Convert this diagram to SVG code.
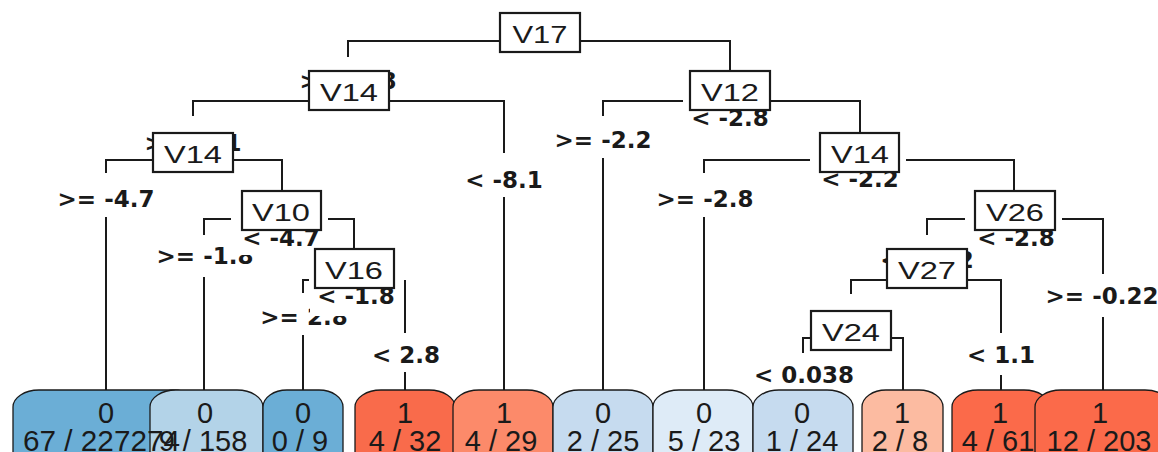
<svg xmlns="http://www.w3.org/2000/svg" width="1158" height="452" viewBox="0 0 1158 452">
<style>
.ln{stroke:#1a1a1a;stroke-width:2;fill:none}
.bx{fill:#fff;stroke:#1a1a1a;stroke-width:2.2}
.vt{font-family:"Liberation Sans",Arial,sans-serif;font-size:23px;fill:#1a1a1a;text-anchor:middle}
.lb{font-family:"DejaVu Sans",sans-serif;font-weight:bold;font-size:23px;fill:#1a1a1a;text-anchor:middle}
.lf{stroke:#1a1a1a;stroke-width:1.3}
.lt{font-family:"Liberation Sans",Arial,sans-serif;font-size:29px;fill:#1a1a1a;text-anchor:middle}
.bg{fill:#fff}
</style>
<rect width="1158" height="452" fill="#fff"/>
<g id="connectors">
<path class="ln" d="M348,57V41H500 M580,41H730V71 M193,116V101H309 M389,101H504V153 M504,197V390 M683,101H603V116 M603,158V390 M770,101H860V133 M106,173V160H153 M106,217V390 M233,160H282V191 M810,160H704V173 M704,217V390 M906,160H1014V191 M231,219H204V235 M204,277V390 M328,219H354V249 M309,280H303V293 M303,335V390 M405,280V333 M405,372V390 M965,219H927V235 M1062,219H1103V274 M1103,317V390 M887,280H851V294 M967,280H1001V333 M1001,375V390 M811,338H803V353 M891,338H903V390"/>
</g>
<g id="split-labels">
<text class="lb" x="205" y="264">&gt;= -1.8</text>
<text class="lb" x="304" y="325">&gt;= 2.8</text>
<rect class="bg" x="238" y="228" width="84" height="27"/>
<rect class="bg" x="310" y="289" width="88" height="27"/>
<text class="lb" x="348" y="89">&gt;= -2.8</text>
<text class="lb" x="193" y="151">&gt;= -8.1</text>
<text class="lb" x="927" y="268">&lt; -0.22</text>
<text class="lb" x="730" y="126">&lt; -2.8</text>
<text class="lb" x="504" y="188">&lt; -8.1</text>
<text class="lb" x="603" y="148">&gt;= -2.2</text>
<text class="lb" x="106" y="207">&gt;= -4.7</text>
<text class="lb" x="281" y="246">&lt; -4.7</text>
<text class="lb" x="860" y="187">&lt; -2.2</text>
<text class="lb" x="705" y="207">&gt;= -2.8</text>
<text class="lb" x="1016" y="246">&lt; -2.8</text>
<text class="lb" x="1102" y="304">&gt;= -0.22</text>
<text class="lb" x="356" y="304">&lt; -1.8</text>
<text class="lb" x="406" y="363">&lt; 2.8</text>
<text class="lb" x="1001" y="363">&lt; 1.1</text>
<text class="lb" x="804" y="383">&lt; 0.038</text>
</g>
<g id="n-V17"><rect class="bx" x="500" y="13" width="80" height="39"/><text class="vt" x="540" y="43" textLength="55" lengthAdjust="spacingAndGlyphs">V17</text></g>
<g id="n-V14a"><rect class="bx" x="309" y="71" width="80" height="39"/><text class="vt" x="349" y="101" textLength="58" lengthAdjust="spacingAndGlyphs">V14</text></g>
<g id="n-V12"><rect class="bx" x="690" y="71" width="80" height="39"/><text class="vt" x="730" y="101" textLength="58" lengthAdjust="spacingAndGlyphs">V12</text></g>
<g id="n-V14b"><rect class="bx" x="153" y="133" width="80" height="39"/><text class="vt" x="193" y="163" textLength="58" lengthAdjust="spacingAndGlyphs">V14</text></g>
<g id="n-V14c"><rect class="bx" x="820" y="133" width="79" height="39"/><text class="vt" x="860" y="163" textLength="58" lengthAdjust="spacingAndGlyphs">V14</text></g>
<g id="n-V10"><rect class="bx" x="242" y="191" width="79" height="39"/><text class="vt" x="281" y="221" textLength="58" lengthAdjust="spacingAndGlyphs">V10</text></g>
<g id="n-V26"><rect class="bx" x="975" y="191" width="80" height="39"/><text class="vt" x="1015" y="221" textLength="58" lengthAdjust="spacingAndGlyphs">V26</text></g>
<g id="n-V16"><rect class="bx" x="315" y="249" width="79" height="39"/><text class="vt" x="354" y="279" textLength="58" lengthAdjust="spacingAndGlyphs">V16</text></g>
<g id="n-V27"><rect class="bx" x="887" y="249" width="80" height="39"/><text class="vt" x="927" y="279" textLength="58" lengthAdjust="spacingAndGlyphs">V27</text></g>
<g id="n-V24"><rect class="bx" x="811" y="311" width="80" height="39"/><text class="vt" x="851" y="341" textLength="58" lengthAdjust="spacingAndGlyphs">V24</text></g>
<g id="leaves">
<g id="leaf1"><rect class="lf" x="13" y="390" width="186" height="90" rx="26" ry="17" fill="#6BAED6"/></g>
<g id="leaf2"><rect class="lf" x="150" y="390" width="113" height="90" rx="26" ry="17" fill="#B3D3E8"/></g>
<g id="leaf3"><rect class="lf" x="263" y="390" width="80" height="90" rx="24" ry="17" fill="#6BAED6"/></g>
<g id="leaf4"><rect class="lf" x="355" y="390" width="100" height="90" rx="26" ry="17" fill="#F96B4B"/></g>
<g id="leaf5"><rect class="lf" x="453" y="390" width="100" height="90" rx="26" ry="17" fill="#FC8A6A"/></g>
<g id="leaf6"><rect class="lf" x="553" y="390" width="100" height="90" rx="26" ry="17" fill="#C6DBEF"/></g>
<g id="leaf7"><rect class="lf" x="653" y="390" width="100" height="90" rx="26" ry="17" fill="#DEEBF7"/></g>
<g id="leaf8"><rect class="lf" x="753" y="390" width="100" height="90" rx="26" ry="17" fill="#C6DBEF"/></g>
<g id="leaf9"><rect class="lf" x="862" y="390" width="81" height="90" rx="24" ry="17" fill="#FCBBA1"/></g>
<g id="leaf10"><rect class="lf" x="952" y="390" width="98" height="90" rx="26" ry="17" fill="#FB6A4A"/></g>
<g id="leaf11"><rect class="lf" x="1035" y="390" width="136" height="90" rx="26" ry="17" fill="#FB6A4A"/></g>
</g>
<g id="leaf-texts">
<text class="lt" x="106" y="423">0</text><text class="lt" x="23" y="451" style="text-anchor:start" textLength="157" lengthAdjust="spacingAndGlyphs">67 / 227274</text>
<text class="lt" x="205" y="423">0</text><text class="lt" x="203" y="451">9 / 158</text>
<text class="lt" x="303" y="423">0</text><text class="lt" x="300" y="451">0 / 9</text>
<text class="lt" x="405" y="423">1</text><text class="lt" x="405" y="451">4 / 32</text>
<text class="lt" x="504" y="423">1</text><text class="lt" x="501" y="451">4 / 29</text>
<text class="lt" x="603" y="423">0</text><text class="lt" x="603" y="451">2 / 25</text>
<text class="lt" x="704" y="423">0</text><text class="lt" x="704" y="451">5 / 23</text>
<text class="lt" x="802" y="423">0</text><text class="lt" x="802" y="451">1 / 24</text>
<text class="lt" x="902" y="423">1</text><text class="lt" x="900" y="451">2 / 8</text>
<text class="lt" x="1000" y="423">1</text><text class="lt" x="998" y="451">4 / 61</text>
<text class="lt" x="1100" y="423">1</text><text class="lt" x="1099" y="451">12 / 203</text>
</g>
</svg>
